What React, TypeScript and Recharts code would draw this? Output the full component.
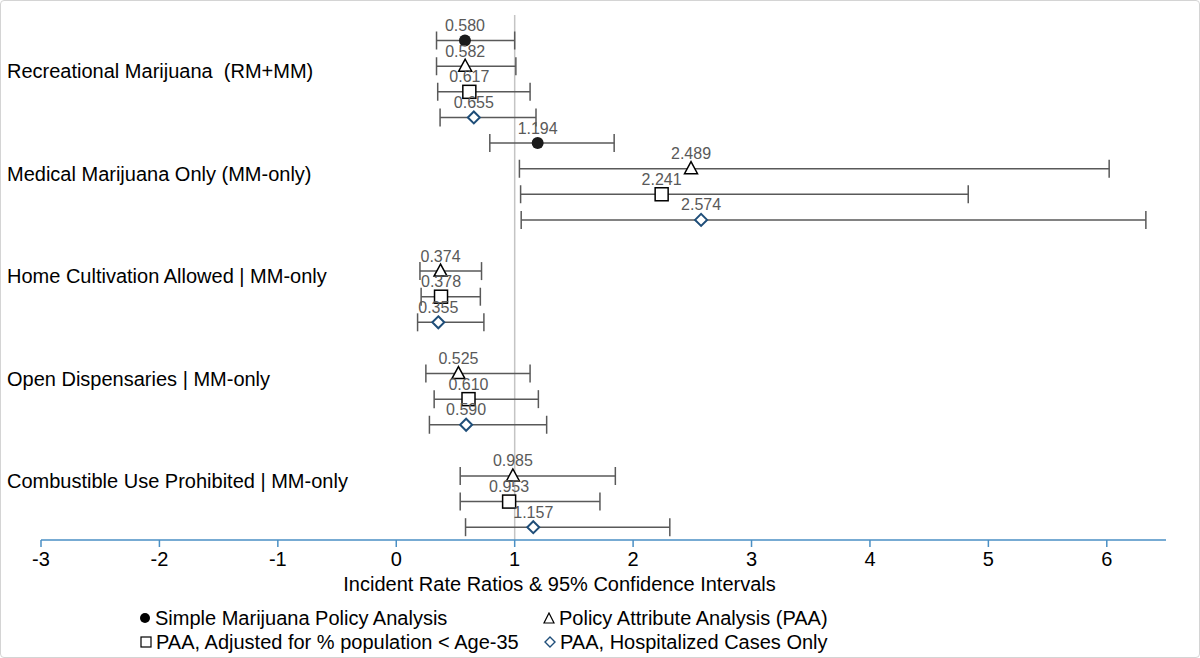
import React from 'react';
import { ScatterChart, Scatter, XAxis, YAxis, ErrorBar, LabelList, ReferenceLine } from 'recharts';

const FONT = '"Liberation Sans", Arial, sans-serif';

// policy groups (top to bottom)
const categories = [
  'Recreational Marijuana  (RM+MM)',
  'Medical Marijuana Only (MM-only)',
  'Home Cultivation Allowed | MM-only',
  'Open Dispensaries | MM-only',
  'Combustible Use Prohibited | MM-only',
];

const seriesNames = [
  'Simple Marijuana Policy Analysis',
  'Policy Attribute Analysis (PAA)',
  'PAA, Adjusted for % population < Age-35',
  'PAA, Hospitalized Cases Only',
];

// IRR point estimates and 95% CI per series (null = not estimated)
const simpleIRR = [0.58, 1.194, null, null, null];
const simpleLow = [0.34, 0.79, null, null, null];
const simpleHigh = [1.0, 1.84, null, null, null];

const paaIRR = [0.582, 2.489, 0.374, 0.525, 0.985];
const paaLow = [0.34, 1.04, 0.2, 0.25, 0.54];
const paaHigh = [1.01, 6.02, 0.72, 1.13, 1.85];

const ageIRR = [0.617, 2.241, 0.378, 0.61, 0.953];
const ageLow = [0.35, 1.05, 0.21, 0.32, 0.54];
const ageHigh = [1.13, 4.83, 0.71, 1.2, 1.72];

const hospIRR = [0.655, 2.574, 0.355, 0.59, 1.157];
const hospLow = [0.37, 1.055, 0.18, 0.28, 0.585];
const hospHigh = [1.18, 6.33, 0.74, 1.27, 2.31];

const xTicks = [-3, -2, -1, 0, 1, 2, 3, 4, 5, 6];

const SLOTS = 4; // rows per group

const build = (irr, low, high, si) =>
  irr
    .map((v, gi) =>
      v == null ? null : { x: v, y: gi * SLOTS + si, err: [v - low[gi], high[gi] - v] }
    )
    .filter(Boolean);

const seriesData = [
  build(simpleIRR, simpleLow, simpleHigh, 0),
  build(paaIRR, paaLow, paaHigh, 1),
  build(ageIRR, ageLow, ageHigh, 2),
  build(hospIRR, hospLow, hospHigh, 3),
];

const DIAMOND = '#1F4E79';

const CircleMark = ({ cx, cy }) => <circle cx={cx} cy={cy} r={6} fill="#1a1a1a" />;
const TriangleMark = ({ cx, cy }) => (
  <polygon
    points={`${cx},${cy - 7} ${cx - 6.5},${cy + 5} ${cx + 6.5},${cy + 5}`}
    fill="#fff"
    stroke="#000"
    strokeWidth={1.5}
  />
);
const SquareMark = ({ cx, cy }) => (
  <rect x={cx - 6.5} y={cy - 6.5} width={13} height={13} fill="#fff" stroke="#000" strokeWidth={1.5} />
);
const DiamondMark = ({ cx, cy }) => (
  <polygon
    points={`${cx},${cy - 6} ${cx + 6},${cy} ${cx},${cy + 6} ${cx - 6},${cy}`}
    fill="#fff"
    stroke={DIAMOND}
    strokeWidth={2}
  />
);

const shapes = [CircleMark, TriangleMark, SquareMark, DiamondMark];

const LegendIcon = ({ i }) => {
  if (i === 0) return <svg width={12} height={12}><circle cx={6} cy={6} r={5} fill="#000" /></svg>;
  if (i === 1) return <svg width={12} height={12}><polygon points="6,1 11,11 1,11" fill="none" stroke="#000" strokeWidth={1.2} /></svg>;
  if (i === 2) return <svg width={12} height={12}><rect x={1} y={1} width={10} height={10} fill="none" stroke="#000" strokeWidth={1.2} /></svg>;
  return <svg width={12} height={12}><polygon points="6,1 11,6 6,11 1,6" fill="none" stroke={DIAMOND} strokeWidth={1.4} /></svg>;
};

const legendPos = [
  { left: 138, top: 605 },
  { left: 542, top: 605 },
  { left: 139, top: 629 },
  { left: 543, top: 629 },
];

const CategoryTick = ({ y, payload }) => {
  const gi = Math.round((payload.value - 1) / SLOTS);
  return (
    <text
      x={6}
      y={y + 12}
      fill="#000"
      fontSize={20}
      fontFamily={FONT}
      textAnchor="start"
      style={{ whiteSpace: 'pre' }}
    >
      {categories[gi]}
    </text>
  );
};

export default function App() {
  return (
    <div
      style={{
        position: 'absolute',
        left: 0,
        top: 0,
        width: 1200,
        height: 658,
        boxSizing: 'border-box',
        border: '1px solid #d4d4d4',
        borderRadius: 4,
        background: '#fff',
        fontFamily: FONT,
        overflow: 'hidden',
      }}
    >
      <ScatterChart width={1198} height={656} margin={{ top: 14, right: 33, bottom: 61, left: 0 }}>
        <XAxis
          type="number"
          dataKey="x"
          domain={[-3, 6.5]}
          ticks={xTicks}
          allowDataOverflow
          height={56}
          axisLine={{ stroke: '#4a8fc4', strokeWidth: 1.5 }}
          tickLine={{ stroke: '#4a8fc4', strokeWidth: 1.5 }}
          tickSize={7}
          tickMargin={5}
          tick={{ fill: '#000', fontSize: 20, fontFamily: FONT }}
          label={{
            value: 'Incident Rate Ratios & 95% Confidence Intervals',
            position: 'insideBottom',
            offset: 5,
            dx: -44,
            fill: '#000',
            fontSize: 20,
            fontFamily: FONT,
          }}
        />
        <YAxis
          type="number"
          dataKey="y"
          domain={[-1, 19.5]}
          reversed
          ticks={categories.map((_, gi) => gi * SLOTS + 1)}
          width={40}
          axisLine={false}
          tickLine={false}
          tick={<CategoryTick />}
        />
        <ReferenceLine x={1} stroke="#c4c4c4" strokeWidth={1.5} />
        {seriesData.map((data, si) => (
          <Scatter
            key={seriesNames[si]}
            name={seriesNames[si]}
            data={data}
            shape={shapes[si]}
            isAnimationActive={false}
          >
            <ErrorBar dataKey="err" direction="x" width={9} stroke="#595959" strokeWidth={1.5} />
            <LabelList
              dataKey="x"
              position="top"
              formatter={(v) => Number(v).toFixed(3)}
              fill="#595959"
              fontSize={16}
              fontFamily={FONT}
            />
          </Scatter>
        ))}
      </ScatterChart>
      {seriesNames.map((name, i) => (
        <div
          key={name}
          style={{
            position: 'absolute',
            left: legendPos[i].left,
            top: legendPos[i].top,
            height: 24,
            display: 'flex',
            alignItems: 'center',
            gap: 4,
            fontSize: 20,
            color: '#000',
            whiteSpace: 'nowrap',
          }}
        >
          <LegendIcon i={i} />
          <span>{name}</span>
        </div>
      ))}
    </div>
  );
}
